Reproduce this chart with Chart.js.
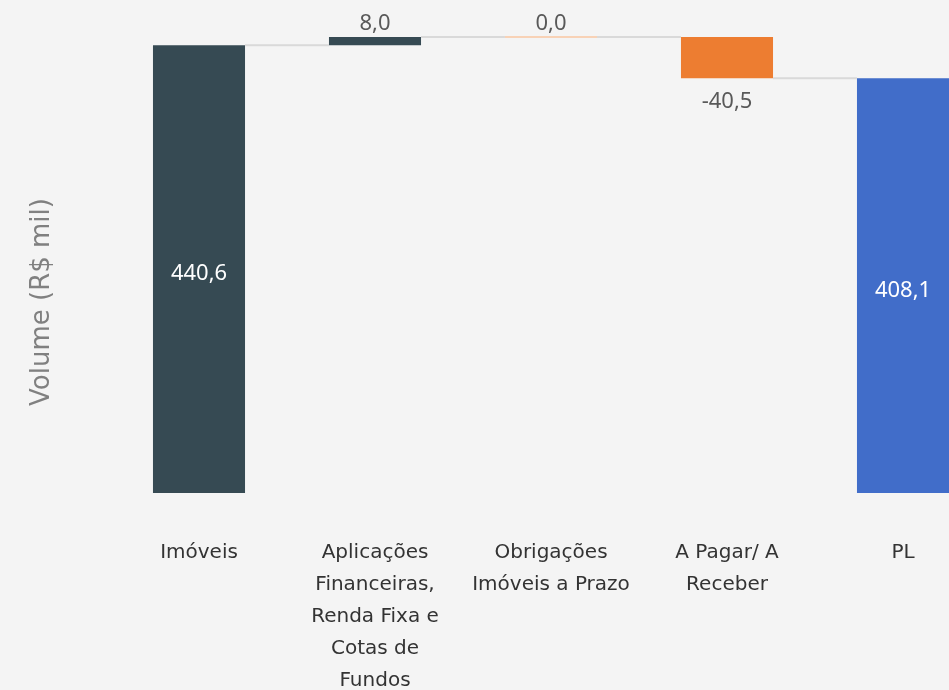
<!DOCTYPE html>
<html>
<head>
<meta charset="utf-8">
<script src="https://cdn.jsdelivr.net/npm/chart.js@4"></script>
<style>
  html, body { margin: 0; padding: 0; background: #f4f4f4; overflow: hidden; }
  #wrap { width: 1000px; height: 741px; }
</style>
</head>
<body>
<div id="wrap"><canvas id="grafico"></canvas></div>
<script>
// Dados
const categorias = [
  "Imóveis",
  ["Aplicações", "Financeiras,", "Renda Fixa e", "Cotas de", "Fundos"],
  ["Obrigações", "Imóveis a Prazo"],
  ["A Pagar/ A", "Receber"],
  "PL"
];
const valores = [440.6, 8.0, 0.0, -40.5, 408.1];
const tipos = ["total", "delta", "delta", "delta", "total"];
const cores = ["#364a53", "#364a53", "#ed7d31", "#ed7d31", "#416dc9"];
const tituloY = "Volume (R$ mil)";

// Formatar número com vírgula
function formatNum(n) {
  return n.toFixed(1).replace(".", ",");
}

// Barras flutuantes da cascata
let acumulado = 0;
const barras = valores.map((v, i) => {
  if (tipos[i] === "total") {
    acumulado = v;
    return [0, v];
  }
  const ini = acumulado;
  acumulado += v;
  return [ini, acumulado];
});

// Linhas de ligação, barra zero e rótulos
const cascataPlugin = {
  id: "cascata",
  afterDatasetsDraw(chart) {
    const ctx = chart.ctx;
    const y = chart.scales.y;
    const meta = chart.getDatasetMeta(0);
    ctx.save();

    // ligações
    ctx.strokeStyle = "#d9d9d9";
    ctx.lineWidth = 2;
    for (let i = 0; i < barras.length - 1; i++) {
      const a = meta.data[i], b = meta.data[i + 1];
      const yy = y.getPixelForValue(barras[i][1]);
      ctx.beginPath();
      ctx.moveTo(a.x + a.width / 2, yy);
      ctx.lineTo(b.x - b.width / 2, yy);
      ctx.stroke();
    }

    // barras de valor zero
    barras.forEach((b, i) => {
      if (b[0] === b[1]) {
        const el = meta.data[i];
        const yy = y.getPixelForValue(b[1]);
        ctx.strokeStyle = "#f8d2b6";
        ctx.beginPath();
        ctx.moveTo(el.x - el.width / 2, yy);
        ctx.lineTo(el.x + el.width / 2, yy);
        ctx.stroke();
      }
    });

    // rótulos
    ctx.font = "22px 'Noto Sans', sans-serif";
    ctx.textAlign = "center";
    ctx.textBaseline = "middle";
    barras.forEach((b, i) => {
      const el = meta.data[i];
      const txt = formatNum(valores[i]);
      const topo = y.getPixelForValue(Math.max(b[0], b[1]));
      const base = y.getPixelForValue(Math.min(b[0], b[1]));
      if (tipos[i] === "total") {
        ctx.fillStyle = "#ffffff";
        ctx.fillText(txt, el.x, (topo + base) / 2 + 5);
      } else if (valores[i] < 0) {
        ctx.fillStyle = "#595959";
        ctx.fillText(txt, el.x, base + 24);
      } else {
        ctx.fillStyle = "#595959";
        ctx.fillText(txt, el.x, topo - 13);
      }
    });

    // título do eixo Y
    ctx.font = "26px 'DejaVu Sans', sans-serif";
    ctx.fillStyle = "#808080";
    ctx.translate(42, 302);
    ctx.rotate(-Math.PI / 2);
    ctx.fillText(tituloY, 0, 0);
    ctx.restore();
  }
};

new Chart(document.getElementById("grafico"), {
  type: "bar",
  data: {
    labels: categorias,
    datasets: [{
      data: barras,
      backgroundColor: cores,
      borderColor: cores,
      borderWidth: 0,
      borderSkipped: false,
      categoryPercentage: 1,
      barPercentage: 0.523
    }]
  },
  options: {
    responsive: true,
    maintainAspectRatio: false,
    animation: false,
    layout: { padding: { left: 111, right: 9, top: 0, bottom: 0 } },
    plugins: {
      legend: { display: false },
      tooltip: { enabled: false }
    },
    scales: {
      x: {
        grid: { display: false, drawTicks: false },
        border: { display: false },
        ticks: {
          autoSkip: false,
          maxRotation: 0,
          padding: 44,
          color: "#333333",
          font: { family: "'DejaVu Sans', sans-serif", size: 20, lineHeight: 1.6 }
        }
      },
      y: {
        display: false,
        min: 0,
        max: 485
      }
    }
  },
  plugins: [cascataPlugin]
});
</script>
</body>
</html>
